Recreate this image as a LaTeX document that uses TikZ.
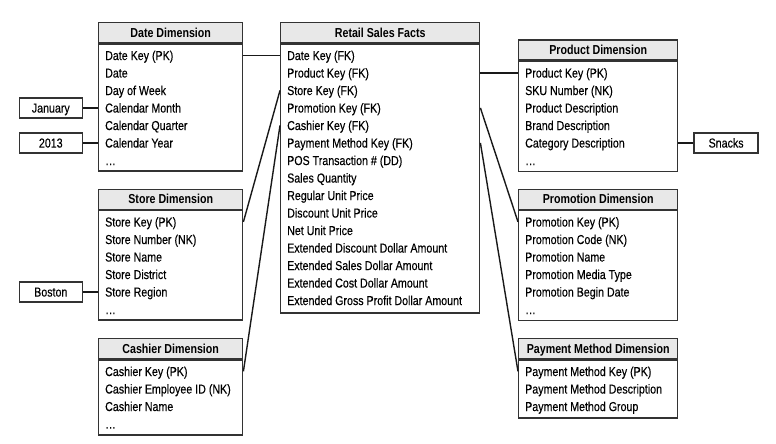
\documentclass[tikz,border=0pt]{standalone}
\usepackage{fontspec}
\setmainfont{Liberation Sans}[FakeStretch=0.82, UprightFeatures={FakeBold=0.3}]
\usetikzlibrary{calc}
\tikzset{
  tblhead/.style={draw=black!80, fill=black!9, line width=1.4pt, anchor=north west, inner sep=0pt,
    minimum height=20pt, text height=9.3pt, text depth=0pt, font={\fontsize{13pt}{15pt}\selectfont\bfseries}},
  tblbody/.style={draw=black!80, line width=1.4pt, anchor=north west, inner sep=0pt},
  tblrow/.style={anchor=west, inner sep=0pt, text height=9.3pt, text depth=0pt},
  valbox/.style={draw=black!80, line width=1.4pt, inner sep=0pt, minimum width=63pt, minimum height=20pt,
    text height=9.3pt, text depth=0pt},
  link/.style={draw=black!90, line width=1.4pt}
}
\begin{document}
\begin{tikzpicture}[x=1pt, y=-1pt, font=\fontsize{13pt}{15pt}\selectfont] %%% y axis points down, 1 unit = 1 px of the reference
      \useasboundingbox (0,0) rectangle (776,444);
      %%% fact table
      \node[tblhead, minimum width=199pt] (facts) at (280,22) {Retail Sales Facts};
      \node[tblbody, minimum width=199pt, minimum height=269pt] (facts-body) at (facts.south west) {};
      \foreach \r [count=\i] in {{Date Key (FK)}, {Product Key (FK)}, {Store Key (FK)}, {Promotion Key (FK)},
          {Cashier Key (FK)}, {Payment Method Key (FK)}, {POS Transaction \# (DD)}, {Sales Quantity},
          {Regular Unit Price}, {Discount Unit Price}, {Net Unit Price}, {Extended Discount Dollar Amount},
          {Extended Sales Dollar Amount}, {Extended Cost Dollar Amount}, {Extended Gross Profit Dollar Amount}}{
        \node[tblrow] (facts-\i) at ($(facts-body.north west)+(7,{12+17.5*(\i-1)})$) {\r};
      }
      %%% left dimensions
      \node[tblhead, minimum width=144pt] (date) at (98,22) {Date Dimension};
      \node[tblbody, minimum width=144pt, minimum height=127pt] (date-body) at (date.south west) {};
      \foreach \r [count=\i] in {{Date Key (PK)}, {Date}, {Day of Week}, {Calendar Month}, {Calendar Quarter},
          {Calendar Year}, {\ldots}}{
        \node[tblrow] (date-\i) at ($(date-body.north west)+(7,{12+17.5*(\i-1)})$) {\r};
      }
      \node[tblhead, minimum width=144pt] (store) at (98,188.5) {Store Dimension};
      \node[tblbody, minimum width=144pt, minimum height=109.5pt] (store-body) at (store.south west) {};
      \foreach \r [count=\i] in {{Store Key (PK)}, {Store Number (NK)}, {Store Name}, {Store District},
          {Store Region}, {\ldots}}{
        \node[tblrow] (store-\i) at ($(store-body.north west)+(7,{12+17.5*(\i-1)})$) {\r};
      }
      \node[tblhead, minimum width=144pt] (cashier) at (98,338) {Cashier Dimension};
      \node[tblbody, minimum width=144pt, minimum height=75pt] (cashier-body) at (cashier.south west) {};
      \foreach \r [count=\i] in {{Cashier Key (PK)}, {Cashier Employee ID (NK)}, {Cashier Name}, {\ldots}}{
        \node[tblrow] (cashier-\i) at ($(cashier-body.north west)+(7,{12+17.5*(\i-1)})$) {\r};
      }
      %%% right dimensions
      \node[tblhead, minimum width=159pt] (product) at (518,39.5) {Product Dimension};
      \node[tblbody, minimum width=159pt, minimum height=110pt] (product-body) at (product.south west) {};
      \foreach \r [count=\i] in {{Product Key (PK)}, {SKU Number (NK)}, {Product Description},
          {Brand Description}, {Category Description}, {\ldots}}{
        \node[tblrow] (product-\i) at ($(product-body.north west)+(7,{12+17.5*(\i-1)})$) {\r};
      }
      \node[tblhead, minimum width=159pt] (promo) at (518,188.5) {Promotion Dimension};
      \node[tblbody, minimum width=159pt, minimum height=110pt] (promo-body) at (promo.south west) {};
      \foreach \r [count=\i] in {{Promotion Key (PK)}, {Promotion Code (NK)}, {Promotion Name},
          {Promotion Media Type}, {Promotion Begin Date}, {\ldots}}{
        \node[tblrow] (promo-\i) at ($(promo-body.north west)+(7,{12+17.5*(\i-1)})$) {\r};
      }
      \node[tblhead, minimum width=159pt] (payment) at (518,338) {Payment Method Dimension};
      \node[tblbody, minimum width=159pt, minimum height=58pt] (payment-body) at (payment.south west) {};
      \foreach \r [count=\i] in {{Payment Method Key (PK)}, {Payment Method Description}, {Payment Method Group}}{
        \node[tblrow] (payment-\i) at ($(payment-body.north west)+(7,{12+17.5*(\i-1)})$) {\r};
      }
      %%% sample values
      \node[valbox, anchor=east] (january) at ($(date-body.west |- date-4)+(-15,0)$) {January};
      \node[valbox, anchor=east] (year) at ($(date-body.west |- date-6)+(-15,0)$) {2013};
      \node[valbox, anchor=east] (boston) at ($(store-body.west |- store-5)+(-15,0)$) {Boston};
      \node[valbox, anchor=west, minimum width=64pt] (snacks) at ($(product-body.east |- product-5)+(15,0)$) {Snacks};
      \draw[link] (january) -- (date-body.west |- date-4);
      \draw[link] (year) -- (date-body.west |- date-6);
      \draw[link] (boston) -- (store-body.west |- store-5);
      \draw[link] (snacks) -- (product-body.east |- product-5);
      %%% joins from the fact table
      \draw[link] (date-body.east |- facts-1) -- (facts-body.west |- facts-1);
      \draw[link] (facts-body.east |- facts-2) -- (product-body.west |- product-1);
      \draw[link] (facts-body.west |- facts-3) -- (store-body.east |- store-1);
      \draw[link] (facts-body.west |- facts-5) -- (cashier-body.east |- cashier-1);
      \draw[link] (facts-body.east |- facts-4) -- (promo-body.west |- promo-1);
      \draw[link] (facts-body.east |- facts-6) -- (payment-body.west |- payment-1);
    \end{tikzpicture}
\end{document}
